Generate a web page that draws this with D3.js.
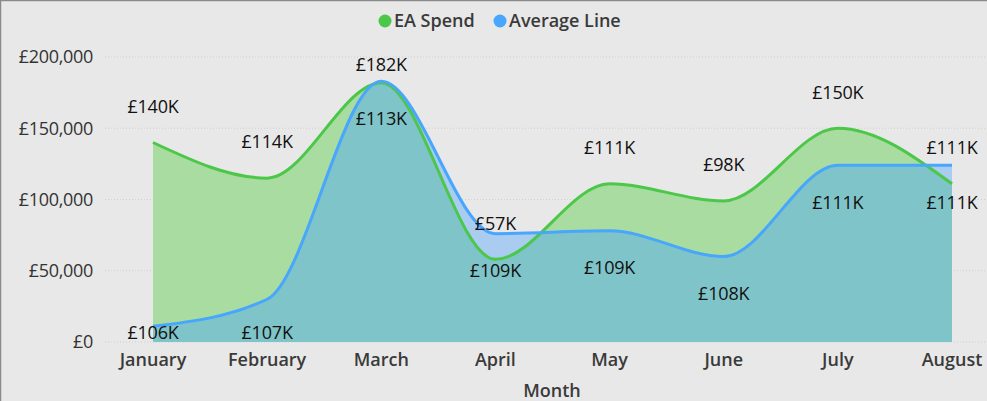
<!DOCTYPE html>
<meta charset="utf-8">
<body style="margin:0;background:#e8e8e8">
<svg width="987" height="401"></svg>
<script src="https://cdn.jsdelivr.net/npm/d3@7/dist/d3.min.js"></script>
<script>
  // data (thousands of pounds)
  var months = ['January', 'February', 'March', 'April', 'May', 'June', 'July', 'August']
  var eaSpend = [140, 115, 182, 58, 111, 99, 150, 111]
  var avgLine = [11, 30, 183, 76, 78, 60, 124, 124]
  var eaLabels = ['£140K', '£114K', '£182K', '£57K', '£111K', '£98K', '£150K', '£111K']
  var avgLabels = ['£106K', '£107K', '£113K', '£109K', '£109K', '£108K', '£111K', '£111K']
  var yTicks = [0, 50, 100, 150, 200]

  var font = '"Open Sans", "Noto Sans", sans-serif'
  var svg = d3.select('svg').style('font-family', font)

  svg.append('rect')
    .attr('x', 0.5).attr('y', 0.5).attr('width', 1000).attr('height', 1000)
    .attr('fill', '#e8e8e8').attr('stroke', '#8a8a8a').attr('stroke-width', 1.5)

  var x = d3.scalePoint().domain(months).range([153, 952])
  var y = d3.scaleLinear().domain([0, 200]).range([342, 57])

  // gridlines
  svg.append('g').selectAll('line').data(yTicks).enter().append('line')
    .attr('x1', 105).attr('x2', 985)
    .attr('y1', function(d) { return y(d) }).attr('y2', function(d) { return y(d) })
    .attr('stroke', '#cfcfcf').attr('stroke-dasharray', '1,2')

  // y axis labels
  svg.append('g').selectAll('text').data(yTicks).enter().append('text')
    .attr('x', 93).attr('y', function(d) { return y(d) })
    .attr('dy', '0.35em').attr('text-anchor', 'end')
    .attr('font-size', 18).attr('fill', '#333').attr('letter-spacing', -0.3)
    .text(function(d) { return d === 0 ? '£0' : '£' + d3.format(',')(d * 1000) })

  // x axis labels
  svg.append('g').selectAll('text').data(months).enter().append('text')
    .attr('x', function(d) { return x(d) }).attr('y', 360)
    .attr('dy', '0.35em')
    .attr('text-anchor', 'middle').attr('font-size', 18).attr('font-weight', 600)
    .attr('fill', '#3a3a3a')
    .text(function(d) { return d })

  svg.append('text').attr('x', 552).attr('y', 391).attr('dy', '0.35em').attr('text-anchor', 'middle')
    .attr('font-size', 18).attr('font-weight', 600).attr('fill', '#3a3a3a').text('Month')

  var curve = d3.curveMonotoneX
  function areaOf(vals) {
    return d3.area().curve(curve)
      .x(function(d, i) { return x(months[i]) })
      .y0(y(0)).y1(function(d) { return y(d) })(vals)
  }
  function lineOf(vals) {
    return d3.line().curve(curve)
      .x(function(d, i) { return x(months[i]) })
      .y(function(d) { return y(d) })(vals)
  }

  svg.append('clipPath').attr('id', 'greenClip')
    .append('path').attr('d', areaOf(eaSpend))

  svg.append('path').attr('d', areaOf(eaSpend)).attr('fill', '#a8dca0')
  svg.append('path').attr('d', areaOf(avgLine)).attr('fill', '#a9ccf0')
  svg.append('path').attr('d', areaOf(avgLine)).attr('fill', '#7fc4c8')
    .attr('clip-path', 'url(#greenClip)')

  svg.append('path').attr('d', lineOf(eaSpend)).attr('fill', 'none')
    .attr('stroke', '#4cc74a').attr('stroke-width', 3)
  svg.append('path').attr('d', lineOf(avgLine)).attr('fill', 'none')
    .attr('stroke', '#48a6fc').attr('stroke-width', 3)

  // data labels
  svg.append('g').selectAll('text').data(eaSpend).enter().append('text')
    .attr('x', function(d, i) { return x(months[i]) })
    .attr('y', function(d) { return Math.max(y(d) - 36, 65) })
    .attr('dy', '0.35em').attr('text-anchor', 'middle')
    .attr('font-size', 18).attr('fill', '#111').attr('letter-spacing', -0.2)
    .text(function(d, i) { return eaLabels[i] })

  svg.append('g').selectAll('text').data(avgLine).enter().append('text')
    .attr('x', function(d, i) { return x(months[i]) })
    .attr('y', function(d) { return Math.min(y(d) + 37, 333) })
    .attr('dy', '0.35em').attr('text-anchor', 'middle')
    .attr('font-size', 18).attr('fill', '#111').attr('letter-spacing', -0.2)
    .text(function(d, i) { return avgLabels[i] })

  // legend
  var legend = [['EA Spend', '#4cc74a', 385], ['Average Line', '#48a6fc', 500]]
  legend.forEach(function(l) {
    svg.append('circle').attr('cx', l[2]).attr('cy', 21).attr('r', 6.5).attr('fill', l[1])
    svg.append('text').attr('x', l[2] + 9).attr('y', 21).attr('dy', '0.35em')
      .attr('font-size', 18).attr('font-weight', 600).attr('fill', '#3a3a3a').text(l[0])
  })
</script>
